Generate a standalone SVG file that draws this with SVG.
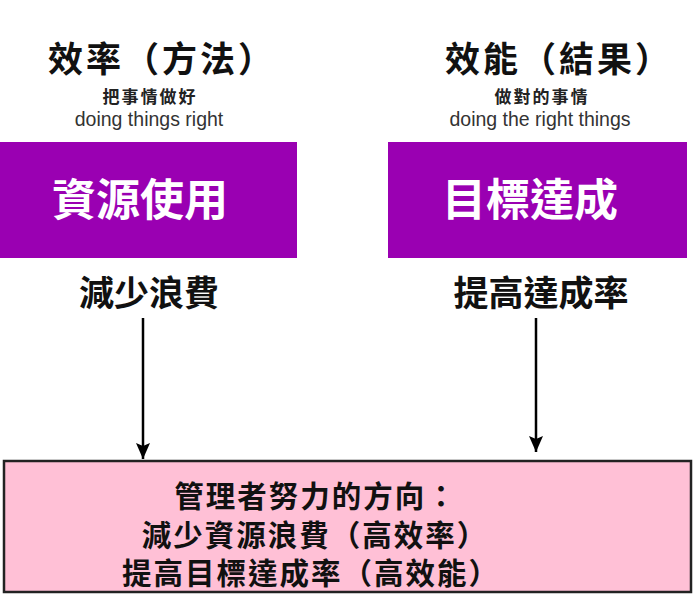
<svg xmlns="http://www.w3.org/2000/svg" width="694" height="594" viewBox="0 0 694 594">
<style>
  .cjk { font-family: "Noto Sans CJK TC", "Noto Sans CJK SC", sans-serif; font-weight: bold; text-anchor: middle; }
  .title { font-size: 35px; fill: #111; letter-spacing: 3px; }
  .sub { font-size: 17px; fill: #222; letter-spacing: 2px; }
  .en { font-family: "Liberation Sans", Arial, sans-serif; font-size: 19.5px; fill: #333; text-anchor: middle; }
  .box { fill: #9A00B2; }
  .boxtext { font-size: 44px; fill: #fff; }
  .label { font-size: 35px; fill: #111; }
  .bottom { fill: #FFC0D6; stroke: #222; stroke-width: 2.5; }
  .btext { font-size: 29.5px; fill: #111; letter-spacing: 2px; }
  .conn { stroke: #000; stroke-width: 2.5; fill: none; }
</style>
<defs>
  <marker id="arrow" viewBox="0 0 16 14" refX="16" refY="7" markerWidth="16" markerHeight="14" markerUnits="userSpaceOnUse" orient="auto">
    <path d="M0,0 L16,7 L0,14 L3,7 z" fill="#000"/>
  </marker>
</defs>
<rect width="694" height="594" fill="#fff"/>

<g id="efficiency">
  <text class="cjk title" x="162" y="72">效率（方法）</text>
  <text class="cjk sub" x="150" y="103">把事情做好</text>
  <text class="en" x="149" y="126">doing things right</text>
</g>
<g id="effectiveness">
  <text class="cjk title" x="559" y="72">效能（結果）</text>
  <text class="cjk sub" x="542" y="103">做對的事情</text>
  <text class="en" x="540" y="126">doing the right things</text>
</g>

<g id="resource-use">
  <rect class="box" x="0" y="142" width="297" height="116"/>
  <text class="cjk boxtext" x="140" y="216">資源使用</text>
</g>
<g id="goal-achieve">
  <rect class="box" x="388" y="142" width="299" height="116"/>
  <text class="cjk boxtext" x="530" y="216">目標達成</text>
</g>

<g id="reduce-waste">
  <text class="cjk label" x="149" y="306">減少浪費</text>
</g>
<g id="raise-rate">
  <text class="cjk label" x="541" y="306">提高達成率</text>
</g>

<g id="manager-direction">
  <rect class="bottom" x="4" y="461" width="687" height="131"/>
  <text class="cjk btext" x="316" y="507">管理者努力的方向：</text>
  <text class="cjk btext" x="315" y="546">減少資源浪費（高效率）</text>
  <text class="cjk btext" x="311" y="584">提高目標達成率（高效能）</text>
</g>

<g id="connectors">
  <line class="conn" x1="143" y1="318" x2="143" y2="459" marker-end="url(#arrow)"/>
  <line class="conn" x1="536" y1="318" x2="536" y2="452" marker-end="url(#arrow)"/>
</g>
</svg>
